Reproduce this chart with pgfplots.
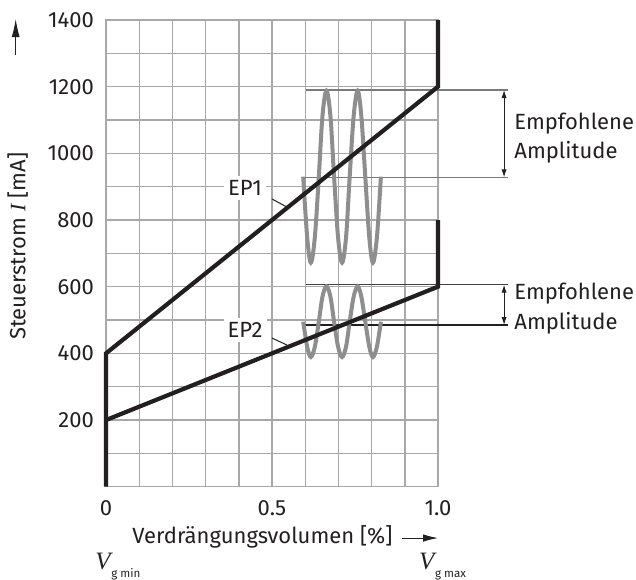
\documentclass[border=0pt]{standalone}
\usepackage{fontspec}
\setmainfont{Fira Sans}
\newfontfamily\vfont{Liberation Serif}
\usepackage{pgfplots}
\pgfplotsset{compat=1.18}
\usetikzlibrary{arrows.meta}
\definecolor{txt}{HTML}{231F20}
\definecolor{gridc}{HTML}{A8A8A8}
\definecolor{wave}{HTML}{8E8E8E}
\definecolor{ampl}{HTML}{7A7A7A}

% gray oscillation curves (eighth-period samples)
\pgfplotstableread{
x      ep1   ep2
0.594  930   495
0.606  748   420
0.617  672   389
0.629  748   420
0.641  930   495
0.652  1112  570
0.664  1188  601
0.676  1112  570
0.687  930   495
0.699  748   420
0.711  672   389
0.723  748   420
0.734  930   495
0.746  1112  570
0.758  1188  601
0.769  1112  570
0.781  930   495
0.793  748   420
0.804  672   389
0.816  748   420
0.828  930   495
}\waves

\begin{document}
\begin{tikzpicture}[font=\fontsize{11}{13}\selectfont, text=txt]
\useasboundingbox (-53pt,-46.15pt) rectangle (265pt,243.35pt);
\begin{axis}[
  at={(0,0)}, anchor=south west,
  scale only axis, width=166pt, height=233.35pt,
  xmin=0, xmax=1, ymin=0, ymax=1400,
  xtick={0,0.1,0.2,0.3,0.4,0.5,0.6,0.7,0.8,0.9,1},
  xticklabels={0,,,,,0.5,,,,,1.0},
  ytick={0,100,...,1400},
  yticklabels={,,200,,400,,600,,800,,1000,,1200,,1400},
  /pgf/number format/assume math mode=true,
  xticklabel style={yshift=-3.2pt, text=txt},
  yticklabel style={xshift=-2.5pt, text=txt},
  major tick length=0pt,
  grid=major,
  grid style={gridc, line width=0.7pt},
  axis line style={gridc, line width=0.7pt},
  clip=false,
]
% amplitude reference lines
\addplot[ampl, line width=0.6pt] coordinates {(0.602,1190) (1.211,1190)};
\addplot[ampl, line width=0.6pt] coordinates {(0.587,928) (1.211,928)};
\addplot[txt!85, line width=0.6pt] coordinates {(0.602,606) (1.211,606)};
\addplot[txt, line width=0.6pt] coordinates {(0.593,485) (1.211,485)};
\addplot[txt, line width=0.5pt, {Latex[length=4pt,width=2.6pt]}-{Latex[length=4pt,width=2.6pt]}]
  coordinates {(1.199,1190) (1.199,928)};
\addplot[txt, line width=0.5pt, {Latex[length=4pt,width=2.6pt]}-{Latex[length=4pt,width=2.6pt]}]
  coordinates {(1.199,606) (1.199,485)};

% oscillations
\addplot[wave, line width=2pt, smooth, tension=0.55] table[x=x, y=ep1] {\waves};
\addplot[wave, line width=2pt, smooth, tension=0.55] table[x=x, y=ep2] {\waves};

% characteristic curves
\addplot[txt, line width=2.1pt, line join=miter] coordinates {(0,0) (0,400) (1,1200) (1,1400)};
\addplot[txt, line width=2.1pt, line join=miter] coordinates {(0,200) (1,600) (1,800)};

% curve labels
\addplot[txt, line width=0.5pt] coordinates {(0.500,863) (0.545,839)};
\addplot[txt, line width=0.5pt] coordinates {(0.500,446) (0.545,425)};
\node[fill=white, inner sep=2pt] at (axis cs:0.419,896) {EP1};
\node[fill=white, inner sep=2pt] at (axis cs:0.419,470) {EP2};

% amplitude texts
\node[anchor=base west, inner sep=0pt] at (axis cs:1.229,1073) {Empfohlene};
\node[anchor=base west, inner sep=0pt] at (axis cs:1.229,986) {Amplitude};
\node[anchor=base west, inner sep=0pt] at (axis cs:1.229,563) {Empfohlene};
\node[anchor=base west, inner sep=0pt] at (axis cs:1.229,473) {Amplitude};

% axis labels
\node[rotate=90, anchor=center] at (axis description cs:-0.266,0.515)
  {Steuerstrom {\vfont\itshape I} [mA]};
\addplot[txt, line width=0.5pt, -{Latex[length=9pt,width=4pt]}]
  coordinates {(-0.272,1295) (-0.272,1403)};
\node[anchor=base, inner sep=0pt] at (axis description cs:0.471,-0.121)
  {Verdrängungsvolumen [\%]};
\draw[txt, line width=0.5pt, -{Latex[length=7.5pt,width=3.8pt]}]
  (axis description cs:0.893,-0.110) -- (axis description cs:1.0,-0.110);
\node[anchor=base west, inner sep=0pt] at (axis description cs:-0.033,-0.178)
  {{\vfont\itshape\fontsize{12.5}{12}\selectfont V}\kern0.3pt\raisebox{-3.7pt}{\fontsize{5.8}{6}\selectfont g min}};
\node[anchor=base west, inner sep=0pt] at (axis description cs:0.942,-0.178)
  {{\vfont\itshape\fontsize{12.5}{12}\selectfont V}\kern0.3pt\raisebox{-3.7pt}{\fontsize{5.8}{6}\selectfont g max}};
\end{axis}
\end{tikzpicture}
\end{document}
